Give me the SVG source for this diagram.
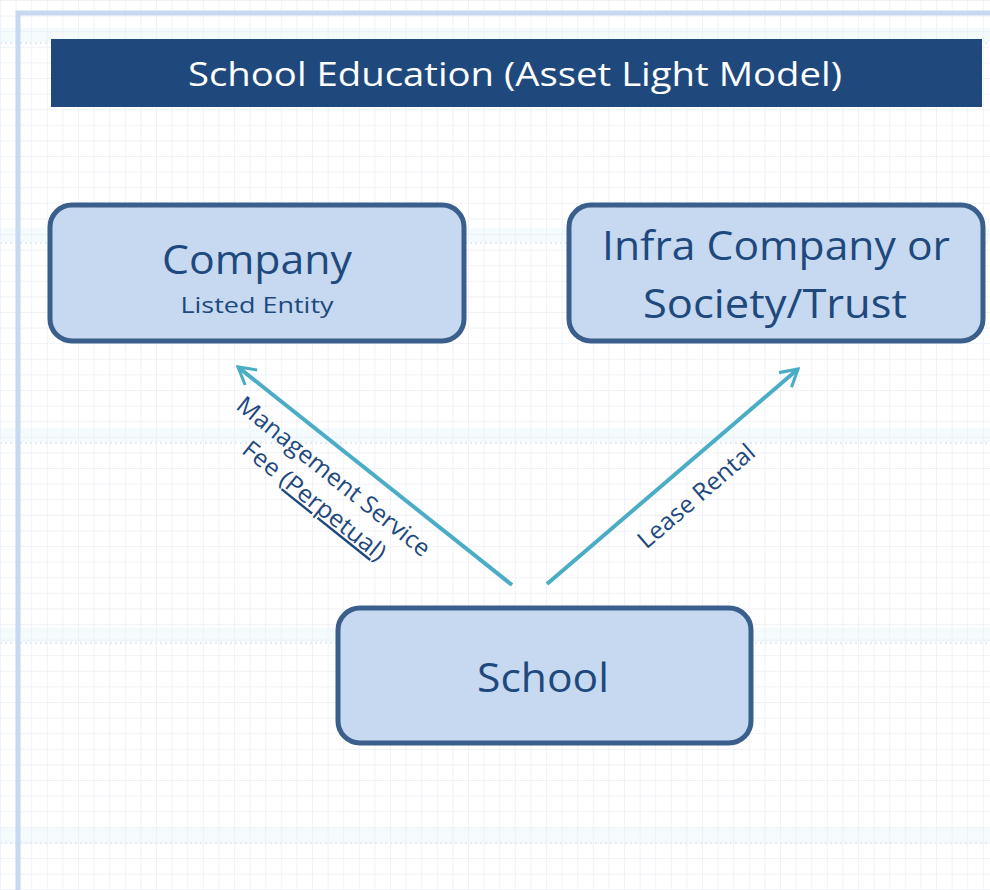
<svg xmlns="http://www.w3.org/2000/svg" width="990" height="890" viewBox="0 0 990 890">
  <defs>
    <pattern id="grid" x="0" y="0" width="15.6" height="15.6" patternUnits="userSpaceOnUse">
      <path d="M 15.6 0 L 0 0 0 15.6" fill="none" stroke="#eceef5" stroke-width="1.5"/>
    </pattern>
    <pattern id="band" x="0" y="28" width="990" height="200" patternUnits="userSpaceOnUse">
      <rect x="0" y="0" width="990" height="14" fill="#f4fbfd"/>
      <line x1="0" y1="15" x2="990" y2="15" stroke="#dde3ee" stroke-width="1.5" stroke-dasharray="2 3"/>
    </pattern>
    <marker id="open" viewBox="0 0 20 20" refX="18" refY="10" markerWidth="6" markerHeight="6" markerUnits="strokeWidth" orient="auto">
      <path d="M 4 2 L 18 10 L 4 18" fill="none" stroke="#4bacc6" stroke-width="2.6" stroke-linecap="butt"/>
    </marker>
  </defs>
  <style>
    .node rect { fill: #c6d9f0; stroke: #3a5f8c; stroke-width: 5; }
    .nt { font-family: "Open Sans", "Noto Sans", "Liberation Sans", sans-serif; fill: #1f497d; text-anchor: middle; }
    .edge { stroke: #4bacc6; stroke-width: 4; fill: none; marker-end: url(#open); }
    .el { font-family: "Open Sans", "Noto Sans", "Liberation Sans", sans-serif; fill: #1f497d; font-size: 24px; text-anchor: middle; }
  </style>
  <rect x="0" y="0" width="990" height="890" fill="#ffffff"/>
  <rect x="0" y="0" width="990" height="890" fill="url(#band)"/>
  <rect x="0" y="0" width="990" height="890" fill="url(#grid)"/>
  <rect x="18" y="13" width="1000" height="1000" fill="none" stroke="#c6d9f0" stroke-width="5"/>

  <g id="title">
    <rect x="51" y="39" width="931" height="68" fill="#1f497d"/>
    <text x="515" y="86" font-family="'Open Sans', 'Noto Sans', 'Liberation Sans', sans-serif" font-size="33" fill="#ffffff" text-anchor="middle" textLength="654" lengthAdjust="spacingAndGlyphs">School Education (Asset Light Model)</text>
  </g>

  <g id="company" class="node">
    <rect x="50" y="205" width="414" height="136" rx="22" ry="22"/>
    <text class="nt" x="257" y="274" font-size="40" textLength="190" lengthAdjust="spacingAndGlyphs">Company</text>
    <text class="nt" x="257" y="313" font-size="22" textLength="153" lengthAdjust="spacingAndGlyphs">Listed Entity</text>
  </g>

  <g id="infra" class="node">
    <rect x="569" y="205" width="414" height="136" rx="22" ry="22"/>
    <text class="nt" x="776" y="260" font-size="40" textLength="348" lengthAdjust="spacingAndGlyphs">Infra Company or</text>
    <text class="nt" x="775" y="318" font-size="40" textLength="264" lengthAdjust="spacingAndGlyphs">Society/Trust</text>
  </g>

  <g id="school" class="node">
    <rect x="338" y="608" width="413" height="135" rx="22" ry="22"/>
    <text class="nt" x="543" y="692" font-size="40" textLength="132" lengthAdjust="spacingAndGlyphs">School</text>
  </g>

  <g id="connectors">
    <line class="edge" x1="512" y1="585" x2="238" y2="367"/>
    <line class="edge" x1="547" y1="584" x2="798" y2="369"/>
    <g transform="translate(323,490) rotate(38.6)">
      <text class="el" x="0" y="-9" textLength="240" lengthAdjust="spacingAndGlyphs">Management Service</text>
      <text class="el" x="0" y="22" textLength="176" lengthAdjust="spacingAndGlyphs">Fee (<tspan text-decoration="underline">Perpetual</tspan>)</text>
    </g>
    <g transform="translate(697,497) rotate(-40.6)">
      <text class="el" x="0" y="7" textLength="146" lengthAdjust="spacingAndGlyphs">Lease Rental</text>
    </g>
  </g>
</svg>
